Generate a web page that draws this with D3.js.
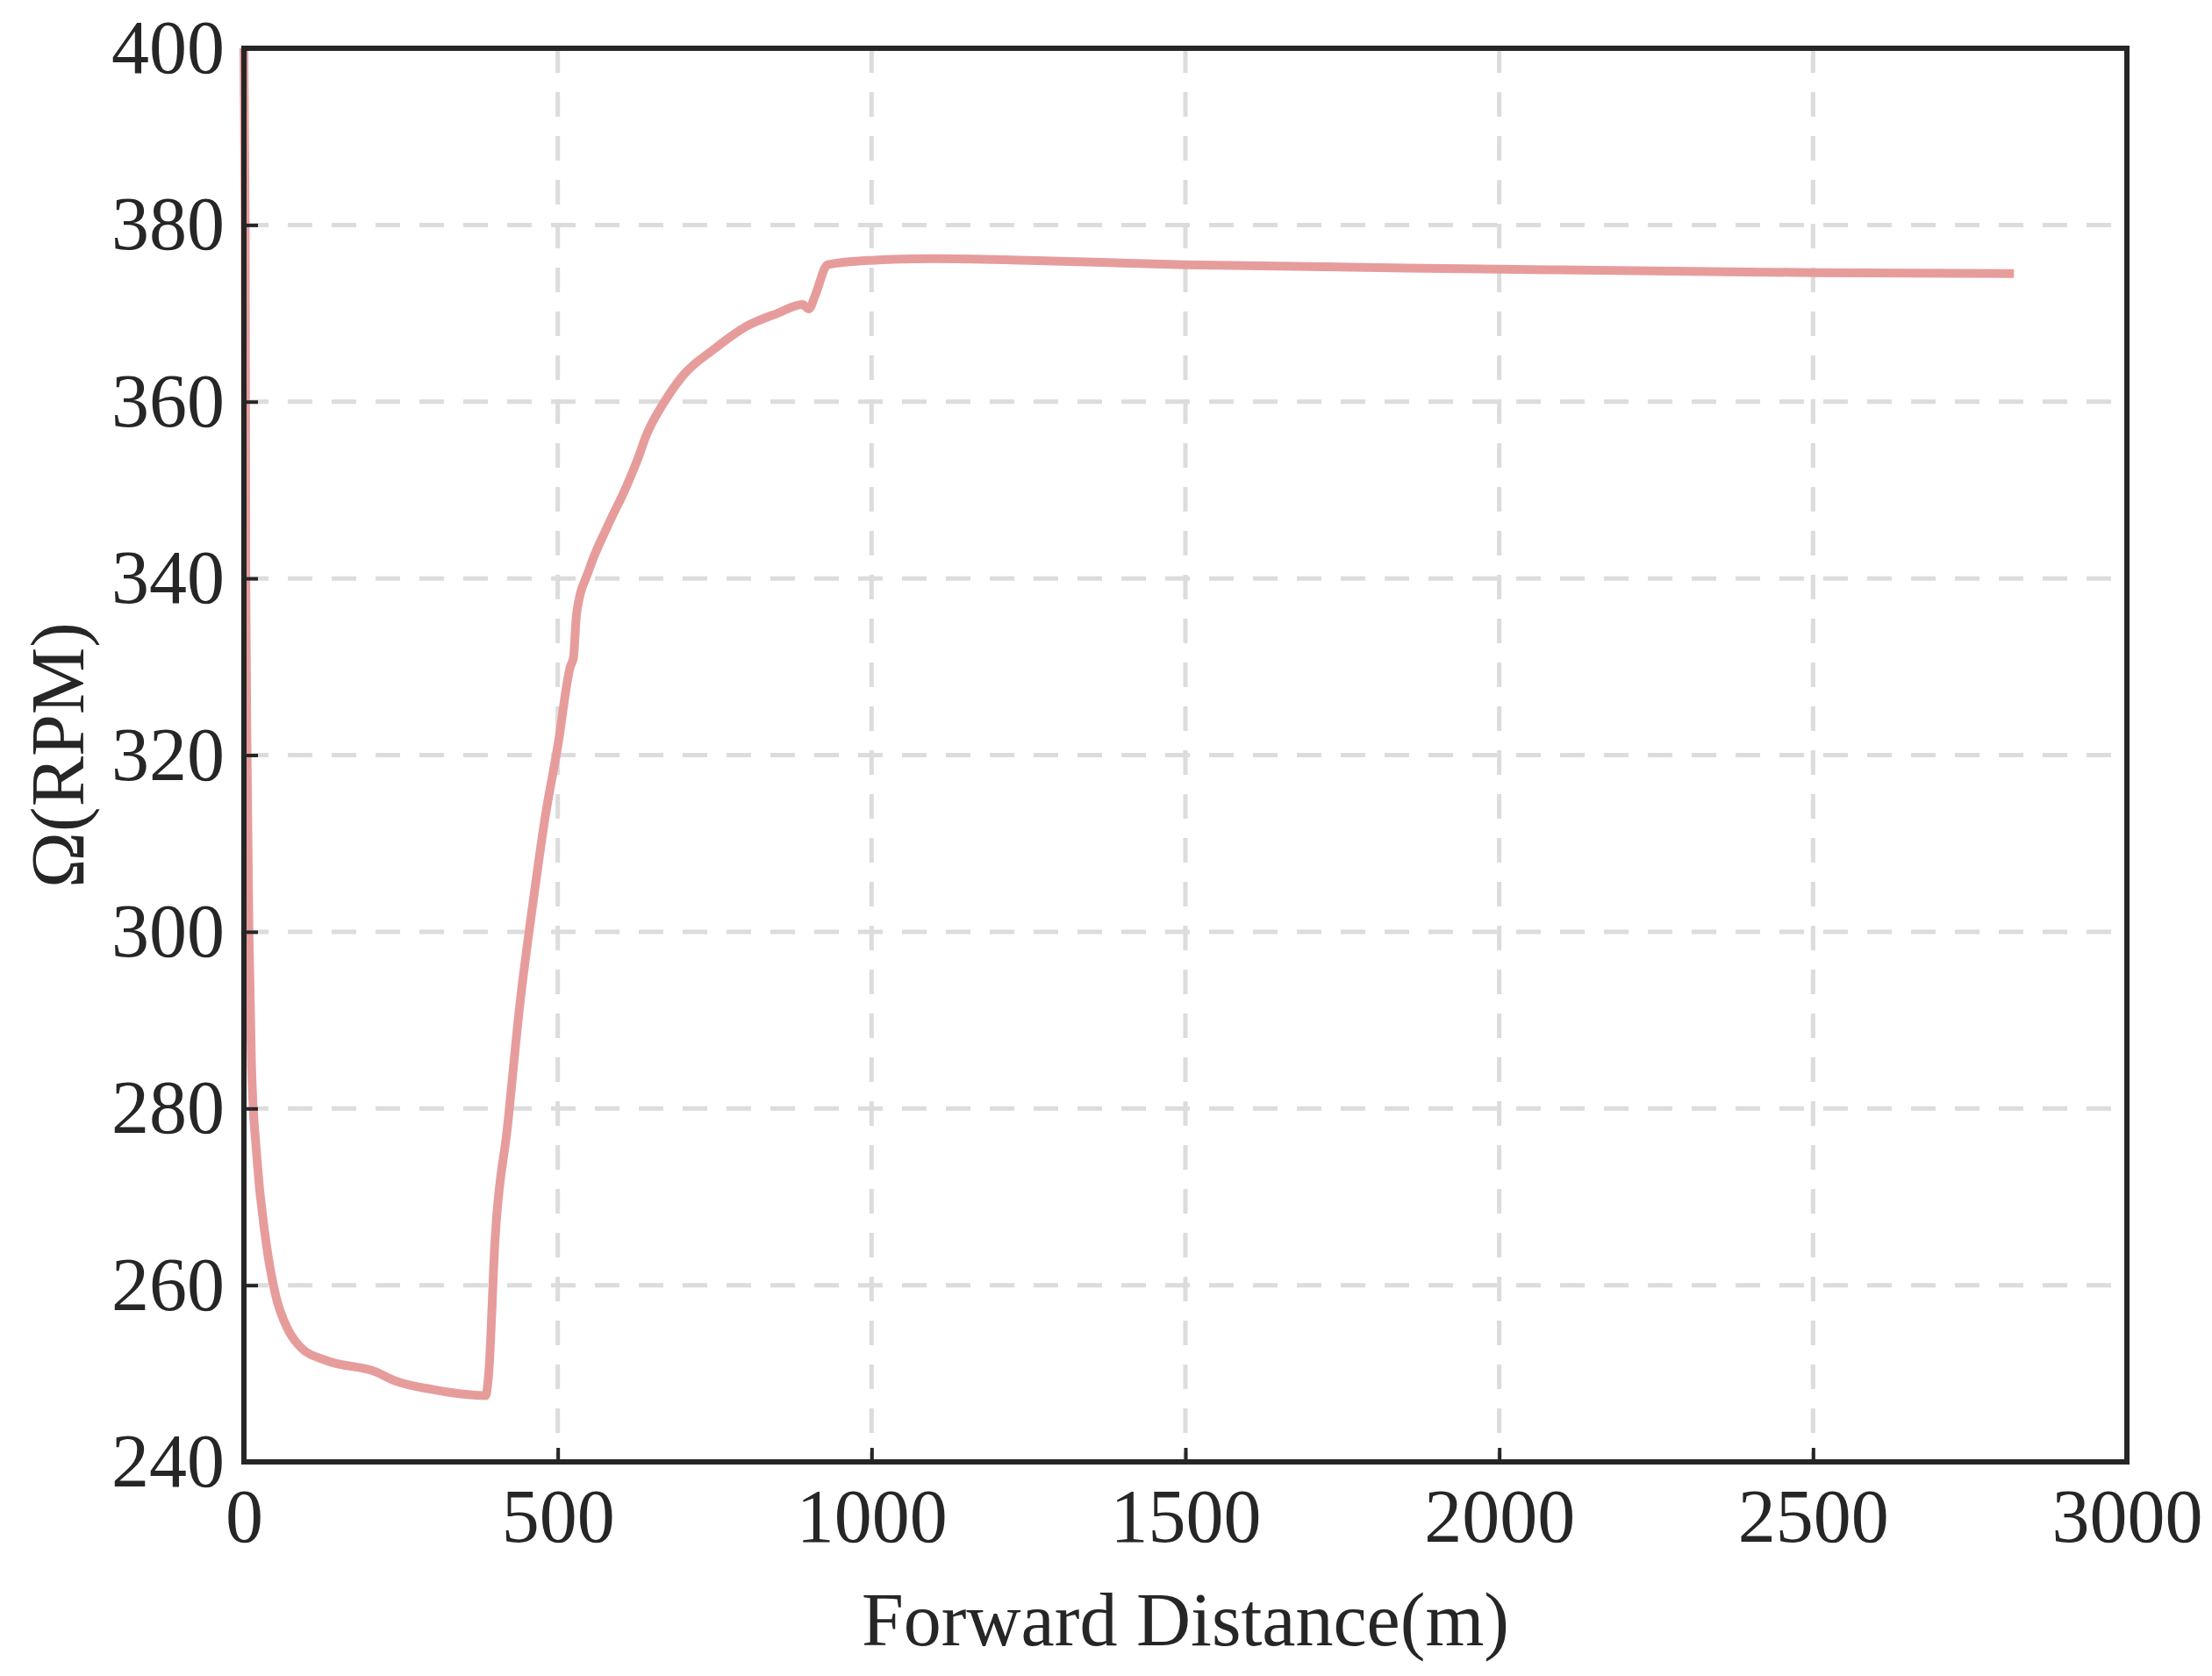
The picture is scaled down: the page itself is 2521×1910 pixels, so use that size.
<!DOCTYPE html>
<html><head><meta charset="utf-8">
<script src="https://cdn.jsdelivr.net/npm/d3@7"></script>
<style>body{margin:0;background:#fff}</style></head>
<body><svg id="c" width="2521" height="1910"></svg>
<script>
const distance=[0,2,3,5,8,12,20,35,50,70,90,130,210,240,300,360,385,390,400,420,440,460,480,500,520,525,530,550,580,610,630,640,670,700,750,800,850,890,900,910,930,1000,1100,1250,1500,2000,2500,2820];
const rpm=[400,380,340,320,300,285,275,265,259,255,253,251.5,250.2,249.2,248.2,247.6,247.5,250,265,278,292,303,313,321,330,331,336,341,346,350.5,354,356,360,363,366,368.5,370,371,370.5,372,375.5,376,376.2,376,375.5,375,374.6,374.5];
const xTicks=[0,500,1000,1500,2000,2500,3000];
const yTicks=[240,260,280,300,320,340,360,380,400];
const L=278,R=2424,T=55,B=1666;
const svg=d3.select("#c");
const x=d3.scaleLinear().domain([0,3000]).range([L,R]);
const y=d3.scaleLinear().domain([240,400]).range([B,T]);
const font="'Liberation Serif','Times New Roman',serif";
const g=svg.append("g");
g.selectAll(".gx").data(xTicks.slice(1,-1)).join("line").attr("x1",d=>x(d)).attr("x2",d=>x(d)).attr("y1",T).attr("y2",B)
 .attr("stroke","#dcdcdc").attr("stroke-width",5).attr("stroke-dasharray","28,22");
g.selectAll(".gy").data(yTicks.slice(1,-1)).join("line").attr("y1",d=>y(d)).attr("y2",d=>y(d)).attr("x1",L).attr("x2",R)
 .attr("stroke","#dcdcdc").attr("stroke-width",5).attr("stroke-dasharray","28,22");
const line=d3.line().x((d,i)=>x(distance[i])).y(d=>y(d)).curve(d3.curveMonotoneX);
svg.append("path").datum(rpm).attr("d",line).attr("fill","none").attr("stroke","#e79c9c").attr("stroke-width",10).attr("stroke-linejoin","round");
const ax=svg.append("g").attr("transform",`translate(0,${B})`).call(d3.axisBottom(x).tickValues(xTicks).tickFormat(d3.format("d")).tickSize(-16).tickPadding(30));
const ay=svg.append("g").attr("transform",`translate(${L},0)`).call(d3.axisLeft(y).tickValues(yTicks).tickSize(-16).tickPadding(22));
[ax,ay].forEach(a=>{a.select(".domain").remove();a.selectAll("line").attr("stroke","#262626").attr("stroke-width",4);
 a.selectAll("text").attr("font-family",font).attr("font-size",86).attr("fill","#262626");});
ax.selectAll("text").attr("dy","0.71em");
svg.append("rect").attr("x",L).attr("y",T).attr("width",R-L).attr("height",B-T).attr("fill","none").attr("stroke","#262626").attr("stroke-width",6);
svg.append("text").attr("x",(L+R)/2).attr("y",1875).attr("text-anchor","middle").attr("font-family",font).attr("font-size",86).attr("fill","#262626").text("Forward Distance(m)");
svg.append("text").attr("transform",`translate(95,${(T+B)/2}) rotate(-90)`).attr("text-anchor","middle").attr("font-family",font).attr("font-size",86).attr("fill","#262626").text("Ω(RPM)");
</script></body></html>
